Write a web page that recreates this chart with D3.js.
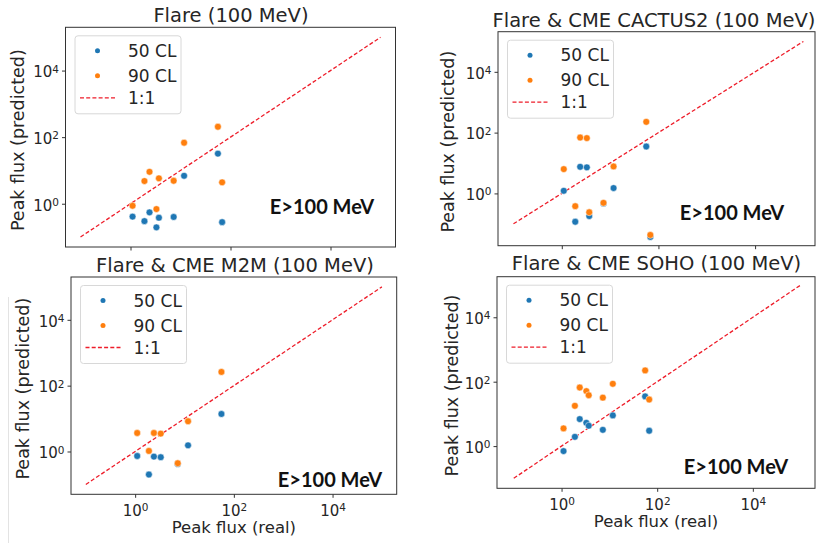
<!DOCTYPE html>
<html>
<head>
<meta charset="utf-8">
<script src="https://cdn.jsdelivr.net/npm/d3@7"></script>
<style>
  body { margin: 0; background: #fff; }
  svg { display: block; }
  .tick text { font-family: "DejaVu Sans", sans-serif; }
</style>
</head>
<body>
<div id="chart"></div>
<script>
// observed peak flux of the events (shared by all four panels)
const realFlux = [1.1, 1.9, 2.4, 3.3, 3.7, 7.3, 11.8, 56, 68];

// predicted peak flux, 50 and 90 confidence levels (null = not plotted)
const flare50 = [0.41, 0.30, 0.55, 0.195, 0.38, 0.40, 6.9, 32, 0.28];
const flare90 = [0.87, 4.8, 9.1, 0.69, 5.8, 4.9, 68, 205, 4.4];

const cactus50 = [1.22, 0.117, 7.5, 7.2, 0.18, 0.47, 1.5, 35, 0.037];
const cactus90 = [6.3, 0.38, 69, 66, 0.24, 0.49, 7.7, 226, 0.043];

const m2m50 = [0.73, 0.20, 0.70, 0.67, null, 0.42, 1.54, 13.8, null];
const m2m90 = [3.65, 1.04, 3.65, 3.5, null, 0.44, 8.3, 261, null];

const soho50 = [0.70, 1.94, 6.9, 5.3, 4.3, 3.2, 9.0, 35, 3.0];
const soho90 = [3.55, 17.8, 66, 51, 38, 32, 86, 224, 28];

const panelTitles = [
  "Flare (100 MeV)",
  "Flare & CME CACTUS2 (100 MeV)",
  "Flare & CME M2M (100 MeV)",
  "Flare & CME SOHO (100 MeV)"
];
const seriesLabels = ["50 CL", "90 CL"];
const lineLabel = "1:1";
const oneToOne = [0.1, 1e5];
const tickValues = [1, 100, 10000];
const energyLabel = "E>100 MeV";
const xLabel = "Peak flux (real)";
const yLabel = "Peak flux (predicted)";

const colors = ["#1f77b4", "#ff7f0e"];
const lineColor = "#ee1d2a";
const textColor = "#262626";

// layout of the four cropped panels
const panels = [
  { title: panelTitles[0], s50: flare50, s90: flare90,
    frame: { l: 65.5, t: 27.3, r: 395.5, b: 247 }, xExp: [-1.3, 5.3], yExp: [-1.3, 5.3],
    titleY: 15, titleX: 231, yLabelX: 18, xLabels: false, energy: [322, 207] },
  { title: panelTitles[1], s50: cactus50, s90: cactus90,
    frame: { l: 498, t: 31.7, r: 815, b: 245.7 }, xExp: [-1.32, 5.24], yExp: [-1.72, 5.32],
    titleY: 20, titleX: 654, yLabelX: 448, xLabels: false, energy: [732, 213] },
  { title: panelTitles[2], s50: m2m50, s90: m2m90,
    frame: { l: 71, t: 277, r: 396.7, b: 494.3 }, xExp: [-1.3, 5.3], yExp: [-1.3, 5.3],
    titleY: 265, titleX: 235, yLabelX: 23, xLabels: true, energy: [330, 480] },
  { title: panelTitles[3], s50: soho50, s90: soho90,
    frame: { l: 497, t: 276.7, r: 815, b: 488.3 }, xExp: [-1.35, 5.3], yExp: [-1.31, 5.26],
    titleY: 263, titleX: 656.5, yLabelX: 452, xLabels: true, energy: [736, 467] }
];

const width = 819;
const height = 543;

const svg = d3.select("#chart")
  .append("svg")
  .attr("width", width)
  .attr("height", height)
  .attr("viewBox", `0 0 ${width} ${height}`);

// faint edge left over from the pasted figure
svg.append("line")
  .attr("x1", 8.5).attr("x2", 8.5)
  .attr("y1", 297).attr("y2", height)
  .attr("stroke", "#e3e3e3")
  .attr("stroke-width", 1);

function superscriptTicks(g) {
  g.selectAll(".tick text").each(function (d) {
    const t = d3.select(this);
    t.text("");
    t.append("tspan").text("10");
    t.append("tspan")
      .attr("font-size", "10.5px")
      .attr("dy", "-0.45em")
      .text(Math.round(Math.log10(d)));
  });
}

panels.forEach((p) => {
  const f = p.frame;
  const x = d3.scaleLog()
    .domain([Math.pow(10, p.xExp[0]), Math.pow(10, p.xExp[1])])
    .range([f.l, f.r]);
  const y = d3.scaleLog()
    .domain([Math.pow(10, p.yExp[0]), Math.pow(10, p.yExp[1])])
    .range([f.b, f.t]);

  const g = svg.append("g");

  // title
  g.append("text")
    .attr("x", p.titleX)
    .attr("y", p.titleY + 7)
    .attr("text-anchor", "middle")
    .attr("font-family", "DejaVu Sans, sans-serif")
    .attr("font-size", "19.5px")
    .attr("fill", textColor)
    .text(p.title);

  // y axis
  g.append("g")
    .attr("transform", `translate(${f.l},0)`)
    .call(d3.axisLeft(y).tickValues(tickValues).tickSize(3.5).tickPadding(3))
    .call((a) => a.select(".domain").remove())
    .call((a) => a.selectAll(".tick line").attr("stroke", "#333"))
    .call((a) => a.selectAll(".tick text")
      .attr("font-size", "15px").attr("fill", textColor).attr("dy", "0.42em"))
    .call(superscriptTicks);

  // x axis
  const xAxis = g.append("g")
    .attr("transform", `translate(0,${f.b})`)
    .call(d3.axisBottom(x).tickValues(tickValues).tickSize(3.5).tickPadding(4))
    .call((a) => a.select(".domain").remove())
    .call((a) => a.selectAll(".tick line").attr("stroke", "#333"));
  if (p.xLabels) {
    xAxis.selectAll(".tick text")
      .attr("font-size", "15px").attr("fill", textColor).attr("dy", "0.95em");
    xAxis.call(superscriptTicks);
    g.append("text")
      .attr("x", (f.l + f.r) / 2)
      .attr("y", f.b + 33 + 6)
      .attr("text-anchor", "middle")
      .attr("font-family", "DejaVu Sans, sans-serif")
      .attr("font-size", "16.5px")
      .attr("fill", textColor)
      .text(xLabel);
  } else {
    xAxis.selectAll(".tick text").remove();
  }

  // y label
  g.append("text")
    .attr("transform", `translate(${p.yLabelX + 6},${(f.t + f.b) / 2 + 3}) rotate(-90)`)
    .attr("text-anchor", "middle")
    .attr("font-family", "DejaVu Sans, sans-serif")
    .attr("font-size", "17.5px")
    .attr("fill", textColor)
    .text(yLabel);

  // 1:1 line
  g.append("line")
    .attr("x1", x(oneToOne[0])).attr("y1", y(oneToOne[0]))
    .attr("x2", x(oneToOne[1])).attr("y2", y(oneToOne[1]))
    .attr("stroke", lineColor)
    .attr("stroke-width", 1.3)
    .attr("stroke-dasharray", "4,2.2");

  // points
  [p.s50, p.s90].forEach((series, si) => {
    const pts = realFlux
      .map((rv, i) => ({ rv, pv: series[i] }))
      .filter((d) => d.pv !== null);
    g.selectAll(null)
      .data(pts)
      .enter()
      .append("circle")
      .attr("cx", (d) => x(d.rv))
      .attr("cy", (d) => y(d.pv))
      .attr("r", 3.4)
      .attr("fill", colors[si])
      .attr("stroke", "#fff")
      .attr("stroke-width", 0.5);
  });

  // frame
  g.append("rect")
    .attr("x", f.l).attr("y", f.t)
    .attr("width", f.r - f.l).attr("height", f.b - f.t)
    .attr("fill", "none")
    .attr("stroke", "#333")
    .attr("stroke-width", 1);

  // legend
  const lg = g.append("g").attr("transform", `translate(${f.l + 9.5},${f.t + 8.5})`);
  lg.append("rect")
    .attr("width", 106).attr("height", 78)
    .attr("rx", 3)
    .attr("fill", "#fff")
    .attr("stroke", "#d8d8d8");
  const rows = [15, 40, 62];
  seriesLabels.forEach((lab, i) => {
    lg.append("circle")
      .attr("cx", 22.5).attr("cy", rows[i]).attr("r", 2.5)
      .attr("fill", colors[i]);
  });
  lg.append("line")
    .attr("x1", 5).attr("x2", 40)
    .attr("y1", rows[2]).attr("y2", rows[2])
    .attr("stroke", lineColor)
    .attr("stroke-width", 1.3)
    .attr("stroke-dasharray", "4,2.2");
  seriesLabels.concat([lineLabel]).forEach((lab, i) => {
    lg.append("text")
      .attr("x", 53).attr("y", rows[i] + 6)
      .attr("font-family", "DejaVu Sans, sans-serif")
      .attr("font-size", "17px")
      .attr("fill", textColor)
      .text(lab);
  });

  // energy annotation
  g.append("text")
    .attr("x", p.energy[0])
    .attr("y", p.energy[1] + 7)
    .attr("text-anchor", "middle")
    .attr("font-family", "Lato, 'Open Sans', sans-serif")
    .attr("font-weight", "bold")
    .attr("font-size", "20px")
    .attr("fill", "#111")
    .text(energyLabel);
});
</script>
</body>
</html>
